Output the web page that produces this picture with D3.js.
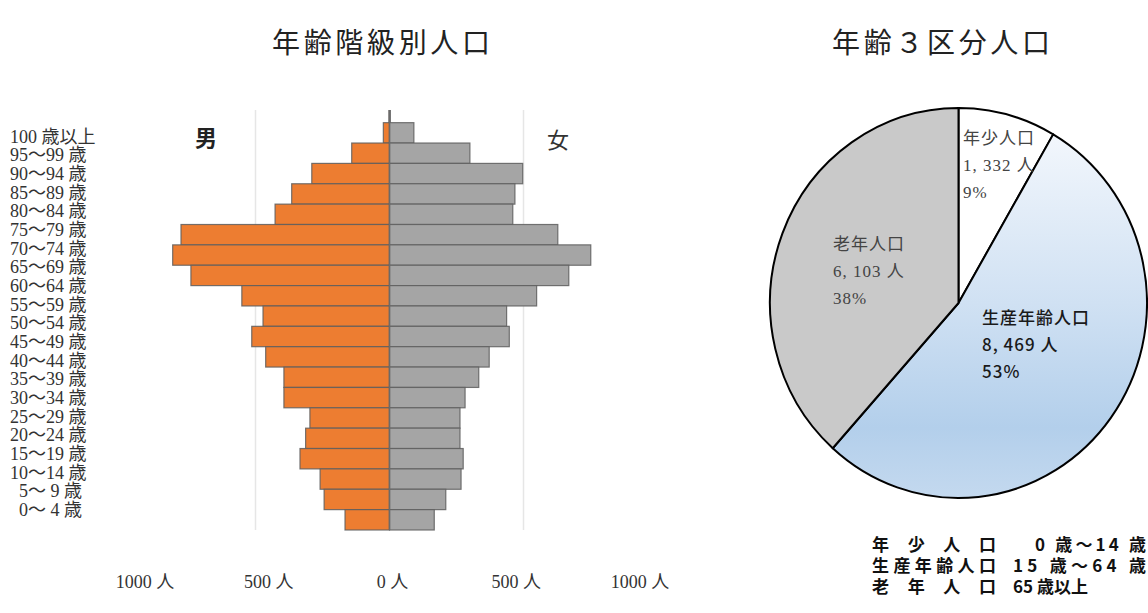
<!DOCTYPE html>
<html lang="ja">
<head>
<meta charset="UTF-8">
<title>年齢階級別人口</title>
<script src="https://d3js.org/d3.v7.min.js"></script>
<style>
  body { margin: 0; background: #fff; }
  text { white-space: pre; }
</style>
</head>
<body>
<svg id="chart" width="1148" height="613"></svg>
<script>
// ---- data ----
const ageGroups = ["100 歳以上", "95～99 歳", "90～94 歳", "85～89 歳", "80～84 歳", "75～79 歳",
  "70～74 歳", "65～69 歳", "60～64 歳", "55～59 歳", "50～54 歳", "45～49 歳", "40～44 歳",
  "35～39 歳", "30～34 歳", "25～29 歳", "20～24 歳", "15～19 歳", "10～14 歳", "\u20075～ 9 歳", "\u20070～ 4 歳"];
const male = [2, 23, 141, 290, 365, 427, 778, 809, 741, 551, 472, 514, 462, 394, 394, 297, 313, 334, 259, 244, 166];
const female = [3, 91, 300, 497, 468, 460, 628, 751, 669, 549, 437, 447, 372, 333, 282, 263, 263, 275, 267, 210, 167];
const axisLabels = ["1000 人", "500 人", "0 人", "500 人", "1000 人"];

const pieNames = ["年少人口", "生産年齢人口", "老年人口"];
const pieValues = [1332, 8469, 6103];
const piePercents = ["9%", "53%", "38%"];

const legendNames = ["年 少 人 口", "生産年齢人口", "老 年 人 口"];
const legendRanges = ["0 歳～14 歳", "15 歳～64 歳", "65 歳以上"];

const svg = d3.select("#chart");
const defs = svg.append("defs");
const serif = "'Liberation Serif', 'Noto Sans CJK JP', serif";
const sans = "'Noto Sans CJK JP', 'Noto Sans', sans-serif";

// ---- titles ----
svg.append("text").attr("x", 272).attr("y", 53)
  .attr("textLength", 218).attr("lengthAdjust", "spacing")
  .attr("font-family", sans).attr("font-size", 28).attr("fill", "#222")
  .text("年齢階級別人口");
svg.append("text").attr("x", 832).attr("y", 53)
  .attr("textLength", 218).attr("lengthAdjust", "spacing")
  .attr("font-family", sans).attr("font-size", 28).attr("fill", "#222")
  .text("年齢３区分人口");

// ---- pyramid ----
const x = d3.scaleLinear().domain([-1000, 1000]).range([121.5, 657.5]);
const y = d3.scaleBand().domain(ageGroups).range([102.3, 530]).padding(0);
const plotTop = 110, plotBottom = 530;

defs.append("clipPath").attr("id", "plotClip")
  .append("rect").attr("x", 0).attr("y", plotTop).attr("width", 760).attr("height", plotBottom - plotTop + 2);

const pyr = svg.append("g");

pyr.selectAll("line.grid")
  .data([-500, 500])
  .join("line")
  .attr("class", "grid")
  .attr("x1", d => x(d)).attr("x2", d => x(d))
  .attr("y1", plotTop).attr("y2", plotBottom)
  .attr("stroke", "#e6e6e6").attr("stroke-width", 1.5);

const bars = pyr.append("g").attr("clip-path", "url(#plotClip)");

bars.selectAll("rect.male")
  .data(ageGroups)
  .join("rect")
  .attr("class", "male")
  .attr("x", (d, i) => x(-male[i]))
  .attr("width", (d, i) => x(0) - x(-male[i]))
  .attr("y", d => y(d))
  .attr("height", y.bandwidth())
  .attr("fill", "#ed7d31")
  .attr("stroke", "#5e5e5e").attr("stroke-opacity", 0.85).attr("stroke-width", 1.2);

bars.selectAll("rect.female")
  .data(ageGroups)
  .join("rect")
  .attr("class", "female")
  .attr("x", x(0))
  .attr("width", (d, i) => x(female[i]) - x(0))
  .attr("y", d => y(d))
  .attr("height", y.bandwidth())
  .attr("fill", "#a5a5a5")
  .attr("stroke", "#5e5e5e").attr("stroke-opacity", 0.85).attr("stroke-width", 1.2);

pyr.append("line")
  .attr("x1", x(0)).attr("x2", x(0))
  .attr("y1", plotTop).attr("y2", plotBottom)
  .attr("stroke", "#6a6a6a").attr("stroke-width", 1.5);

// age labels
const yl = d3.scalePoint().domain(ageGroups).range([136.7, 510]);
svg.selectAll("text.age")
  .data(ageGroups)
  .join("text")
  .attr("class", "age")
  .attr("x", 10)
  .attr("y", d => yl(d) + 6)
  .attr("font-family", serif).attr("font-size", 18).attr("fill", "#333")
  .text(d => d);

// axis labels
const xl = d3.scalePoint().domain(d3.range(axisLabels.length)).range([145, 640]);
svg.selectAll("text.axis")
  .data(axisLabels)
  .join("text")
  .attr("class", "axis")
  .attr("x", (d, i) => xl(i))
  .attr("y", 588)
  .attr("text-anchor", "middle")
  .attr("font-family", serif).attr("font-size", 18).attr("fill", "#333")
  .text(d => d);

svg.append("text").attr("x", 195).attr("y", 146)
  .attr("font-family", sans).attr("font-size", 22).attr("font-weight", "bold").attr("fill", "#222")
  .text("男");
svg.append("text").attr("x", 547).attr("y", 148)
  .attr("font-family", sans).attr("font-size", 22).attr("fill", "#333")
  .text("女");

// ---- pie ----
const cx = 958.5, cy = 303, rx = 188.5, ry = 195;
// gradient in the pie group's own (scaled) user space
const grad = defs.append("linearGradient")
  .attr("id", "blueGrad").attr("gradientUnits", "userSpaceOnUse")
  .attr("x1", 0).attr("y1", -rx).attr("x2", 0).attr("y2", rx);
[[0, "#f9fbfe"], [0.12, "#eef4fb"], [0.5, "#d0e1f3"], [0.82, "#b3cfeb"], [1, "#c4d9ef"]].forEach(s =>
  grad.append("stop").attr("offset", s[0]).attr("stop-color", s[1]));

const pieColors = ["#ffffff", "url(#blueGrad)", "#c9c9c9"];
const pie = d3.pie().sort(null).value(d => d);
const arc = d3.arc().innerRadius(0).outerRadius(rx);

const pg = svg.append("g")
  .attr("transform", `translate(${cx},${cy}) scale(1,${ry / rx})`);
pg.selectAll("path")
  .data(pie(pieValues))
  .join("path")
  .attr("d", arc)
  .attr("fill", (d, i) => pieColors[i])
  .attr("stroke", "#000")
  .attr("stroke-width", 2)
  .attr("stroke-linejoin", "round")
  .attr("vector-effect", "non-scaling-stroke");

// pie labels
const fmt = d3.format(",");
const pieLabelPos = [[963, 144], [982, 324], [833, 250]];
pieNames.forEach((name, i) => {
  const lines = [name, fmt(pieValues[i]).replace(",", ", ") + " 人", piePercents[i]];
  const t = svg.append("text")
    .attr("font-family", i === 1 ? sans : serif)
    .attr("font-size", 17)
    .attr("font-weight", i === 1 ? 500 : 400)
    .attr("fill", i === 1 ? "#1a1a1a" : "#444")
    .attr("letter-spacing", 1);
  lines.forEach((l, j) => {
    t.append("tspan").attr("x", pieLabelPos[i][0]).attr("y", pieLabelPos[i][1] + j * 27).text(l);
  });
});

// ---- legend ----
const legendStart = [1035, 1013, 1013];
const legendWidth = [111, 133, 75];
legendNames.forEach((name, i) => {
  svg.append("text").attr("x", 872).attr("y", 551 + i * 21)
    .attr("textLength", 124).attr("lengthAdjust", "spacing")
    .attr("font-family", sans).attr("font-size", 17).attr("font-weight", "bold").attr("fill", "#111")
    .text(name);
  svg.append("text").attr("x", legendStart[i]).attr("y", 551 + i * 21)
    .attr("textLength", legendWidth[i]).attr("lengthAdjust", "spacing")
    .attr("font-family", sans).attr("font-size", 17).attr("font-weight", "bold").attr("fill", "#111")
    .text(legendRanges[i]);
});
</script>
</body>
</html>
